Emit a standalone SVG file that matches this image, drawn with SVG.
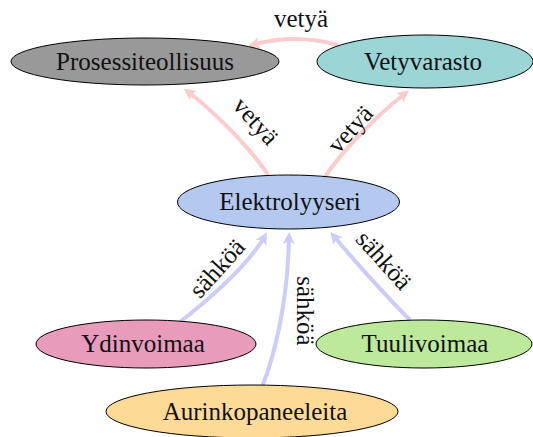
<svg xmlns="http://www.w3.org/2000/svg" width="533" height="437" viewBox="0 0 533 437" font-family="'Liberation Serif', 'DejaVu Serif', serif">
<style>
  .node ellipse { stroke: #000; stroke-width: 1; }
  .node text { font-family: 'Liberation Serif', 'DejaVu Serif', serif; font-size: 25px; fill: #111; text-anchor: middle; }
  .lbl { font-family: 'Liberation Serif', 'DejaVu Serif', serif; font-size: 25px; fill: #111; text-anchor: middle; dominant-baseline: central; }
  .h2 { fill: none; stroke: #ffcccc; stroke-width: 4; marker-end: url(#ahR); }
  .el { fill: none; stroke: #ccccff; stroke-width: 4; marker-end: url(#ahB); }
</style>
<defs>
  <marker id="ahR" markerUnits="userSpaceOnUse" markerWidth="14" markerHeight="14" viewBox="0 -7 14 14" refX="8" refY="0" orient="auto">
    <path d="M0,-6 L12,0 L0,6 L3,0 Z" fill="#ffcccc"/>
  </marker>
  <marker id="ahB" markerUnits="userSpaceOnUse" markerWidth="14" markerHeight="14" viewBox="0 -7 14 14" refX="8" refY="0" orient="auto">
    <path d="M0,-6 L12,0 L0,6 L3,0 Z" fill="#ccccff"/>
  </marker>
</defs>
<rect width="533" height="437" fill="#fff"/>
<g id="connectors">
  <path class="h2" d="M338,45 Q295,33 252,45"/>
  <path class="h2" d="M268,175 C252,150 215,112 187,91"/>
  <path class="h2" d="M325,177 C341,152 378,114 406,93"/>
  <path class="el" d="M180,322 C208,300 248,265 265,236"/>
  <path class="el" d="M262,387 C275,355 288,300 289,236"/>
  <path class="el" d="M410,320 C390,300 355,262 333,235"/>
  <text class="lbl" x="301" y="18">vetyä</text>
  <text class="lbl" transform="translate(256,121) rotate(48)">vetyä</text>
  <text class="lbl" transform="translate(350,129) rotate(-48)">vetyä</text>
  <text class="lbl" transform="translate(217,268) rotate(-48)">sähköä</text>
  <text class="lbl" transform="translate(305,311) rotate(90)">sähköä</text>
  <text class="lbl" transform="translate(384,260) rotate(48)">sähköä</text>
</g>
<g id="prosessiteollisuus" class="node">
  <ellipse cx="145" cy="61.5" rx="134" ry="23.5" fill="#999999"/>
  <text x="145" y="70">Prosessiteollisuus</text>
</g>
<g id="vetyvarasto" class="node">
  <ellipse cx="425" cy="61.5" rx="108" ry="26.5" fill="#9cd5d6"/>
  <text x="423" y="70">Vetyvarasto</text>
</g>
<g id="elektrolyyseri" class="node">
  <ellipse cx="288.5" cy="202" rx="111" ry="27" fill="#b4c9ef"/>
  <text x="290" y="210">Elektrolyyseri</text>
</g>
<g id="ydinvoimaa" class="node">
  <ellipse cx="146" cy="344" rx="110" ry="24" fill="#e89bbb"/>
  <text x="143" y="352">Ydinvoimaa</text>
</g>
<g id="tuulivoimaa" class="node">
  <ellipse cx="424" cy="344" rx="108" ry="24" fill="#bde99b"/>
  <text x="425" y="352">Tuulivoimaa</text>
</g>
<g id="aurinkopaneeleita" class="node">
  <ellipse cx="252" cy="411.5" rx="146" ry="26.5" fill="#fddb96"/>
  <text x="255" y="420">Aurinkopaneeleita</text>
</g>
</svg>
